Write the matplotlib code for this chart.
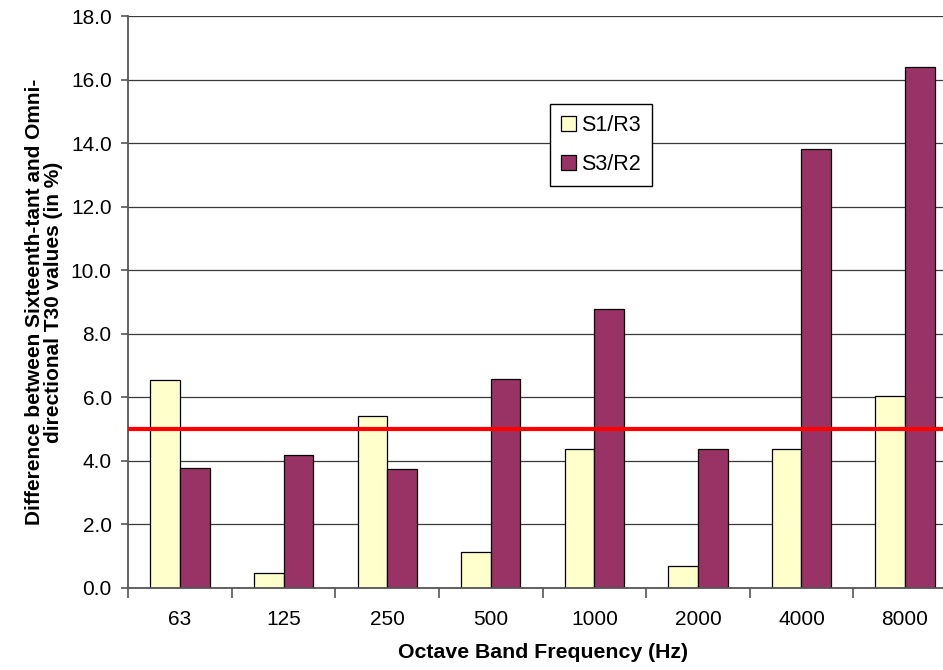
import numpy as np
import matplotlib
matplotlib.use('Agg')
import matplotlib.pyplot as plt

#octave band centre frequencies (Hz)
bands = ['63', '125', '250', '500', '1000', '2000', '4000', '8000']
#difference between sixteenth-tant and omni-directional T30 (%)
s1_r3 = [6.54, 0.47, 5.42, 1.14, 4.37, 0.69, 4.37, 6.05]
s3_r2 = [3.77, 4.18, 3.74, 6.56, 8.77, 4.36, 13.82, 16.41]
#acceptance threshold (%)
threshold = 5.0

plt.rcParams['font.family'] = ['Liberation Sans', 'DejaVu Sans']

fig = plt.figure(figsize=(9.43, 6.7), dpi=100)
ax = fig.add_axes([0.1361, 0.1228, 0.8785, 0.853])

x = np.arange(len(bands))
w = 0.287
ax.bar(x - w/2, s1_r3, w, color='#FFFFCC', edgecolor='black', linewidth=0.9,
       label='S1/R3', zorder=2)
ax.bar(x + w/2, s3_r2, w, color='#993366', edgecolor='black', linewidth=0.9,
       label='S3/R2', zorder=2)
ax.axhline(threshold, color='#FF0000', linewidth=3, zorder=3)

#axes limits and grid
ax.set_xlim(-0.5, len(bands) - 0.5)
ax.set_ylim(0, 18)
ax.set_yticks(np.arange(0, 18.1, 2.0))
ax.set_yticklabels(['%.1f' % v for v in np.arange(0, 18.1, 2.0)])
ax.yaxis.grid(True, color='#3a3a3a', linewidth=0.9, zorder=0)
ax.set_axisbelow(True)

#category labels centred, tick marks between categories
ax.set_xticks(x)
ax.set_xticklabels(bands)
ax.set_xticks(np.arange(-0.5, len(bands), 1.0), minor=True)
ax.tick_params(axis='x', which='major', length=0, pad=16, labelsize=15)
ax.tick_params(axis='x', which='minor', length=7, width=1.2, color='#555555',
               direction='out')
ax.tick_params(axis='y', length=5, width=1.2, color='#555555', direction='out',
               pad=7, labelsize=15)

for side in ['top', 'right']:
    ax.spines[side].set_visible(False)
for side in ['left', 'bottom']:
    ax.spines[side].set_color('#555555')
    ax.spines[side].set_linewidth(1.3)

ax.set_xlabel('Octave Band Frequency (Hz)', fontsize=15.3, fontweight='bold',
              labelpad=10)
ax.set_ylabel('Difference between Sixteenth-tant and Omni-\ndirectional T30 values (in %)',
              fontsize=15, fontweight='bold', labelpad=5.5, linespacing=1.0)

leg = ax.legend(loc='center', bbox_to_anchor=(0.5706, 0.7746), fontsize=15.5,
                frameon=True, fancybox=False, framealpha=1, edgecolor='black',
                handlelength=0.7, handleheight=0.7, handletextpad=0.25,
                labelspacing=0.85, borderpad=0.5, borderaxespad=0)
leg.get_frame().set_linewidth(1.0)

fig.savefig('out.png', dpi=100)
